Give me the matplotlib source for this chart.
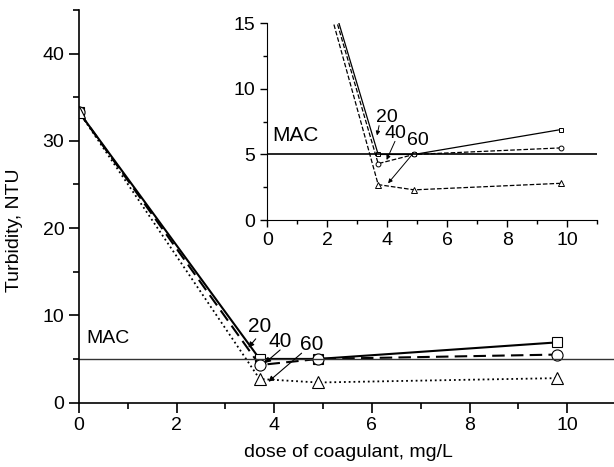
import matplotlib
matplotlib.use("Agg")
import matplotlib.pyplot as plt
from matplotlib.ticker import MultipleLocator

plt.rcParams['font.family'] = ['Liberation Sans', 'DejaVu Sans']

dose = [0, 3.7, 4.9, 9.8]
turb20 = [33.3, 5.0, 5.0, 6.9]
turb40 = [33.3, 4.3, 5.0, 5.5]
turb60 = [33.3, 2.7, 2.3, 2.8]
mac = 5.0

fig = plt.figure(figsize=(6.14, 4.67), dpi=100)
ax = fig.add_axes([0.1287, 0.138, 0.8713, 0.8406])

ax.plot(dose, turb20, '-', color='black', lw=1.5, marker='s', ms=7, mfc='white', mec='black', mew=0.8)
ax.plot(dose, turb40, '--', color='black', lw=1.5, dashes=(6, 3), marker='o', ms=8, mfc='white', mec='black', mew=0.8)
ax.plot(dose, turb60, ':', color='black', lw=1.3, marker='^', ms=8.5, mfc='white', mec='black', mew=0.8)
ax.axhline(mac, color='#333333', lw=1.0)

ax.set_xlim(0, 10.96)
ax.set_ylim(0, 45)
ax.xaxis.set_major_locator(MultipleLocator(2))
ax.xaxis.set_minor_locator(MultipleLocator(1))
ax.yaxis.set_major_locator(MultipleLocator(10))
ax.yaxis.set_minor_locator(MultipleLocator(5))
for s in ['top', 'right']:
    ax.spines[s].set_visible(False)
ax.spines['left'].set_linewidth(1.2)
ax.spines['bottom'].set_linewidth(1.2)
ax.tick_params(which='major', direction='out', length=7, width=1.2, labelsize=14)
ax.tick_params(which='minor', direction='out', length=4, width=1.2)
ax.set_xlabel('dose of coagulant, mg/L', fontsize=14)
ax.set_ylabel('Turbidity, NTU', fontsize=14)
ax.yaxis.set_label_coords(-0.105, 0.44)
ax.xaxis.set_label_coords(0.503, -0.105)

ax.text(0.16, 6.4, 'MAC', fontsize=14, ha='left', va='bottom')
arw = dict(arrowstyle='-|>', color='black', lw=0.8, mutation_scale=8, shrinkA=0, shrinkB=0)
ax.text(3.71, 8.7, '20', fontsize=15, ha='center', va='center')
ax.text(4.12, 7.0, '40', fontsize=15, ha='center', va='center')
ax.text(4.77, 6.6, '60', fontsize=15, ha='center', va='center')
ax.annotate('', xy=(3.47, 6.3), xytext=(3.62, 7.3), arrowprops=arw)
ax.annotate('', xy=(3.81, 4.54), xytext=(4.12, 6.03), arrowprops=arw)
ax.annotate('', xy=(3.88, 2.39), xytext=(4.56, 5.66), arrowprops=arw)

# inset
ins = fig.add_axes([0.4353, 0.5289, 0.5370, 0.4211])
ins.plot(dose, turb20, '-', color='black', lw=0.9, marker='s', ms=3.5, mfc='white', mec='black', mew=0.7)
ins.plot(dose, turb40, '--', color='black', lw=0.9, marker='o', ms=3.5, mfc='white', mec='black', mew=0.7)
ins.plot(dose, turb60, '--', color='black', lw=0.9, marker='^', ms=4, mfc='white', mec='black', mew=0.7)
ins.axhline(mac, color='black', lw=1.2)
ins.set_xlim(0, 11)
ins.set_ylim(0, 15)
ins.xaxis.set_major_locator(MultipleLocator(2))
ins.xaxis.set_minor_locator(MultipleLocator(1))
ins.yaxis.set_major_locator(MultipleLocator(5))
ins.yaxis.set_minor_locator(MultipleLocator(2.5))
for s in ['top', 'right']:
    ins.spines[s].set_visible(False)
ins.tick_params(which='major', direction='out', length=5, width=1.0, labelsize=14)
ins.tick_params(which='minor', direction='out', length=3, width=1.0)
ins.text(0.15, 5.7, 'MAC', fontsize=15, ha='left', va='bottom')
arw2 = dict(arrowstyle='-|>', color='black', lw=0.7, mutation_scale=6, shrinkA=0, shrinkB=0)
ins.text(3.98, 7.8, '20', fontsize=14, ha='center', va='center')
ins.text(4.28, 6.6, '40', fontsize=14, ha='center', va='center')
ins.text(5.03, 6.1, '60', fontsize=14, ha='center', va='center')
ins.annotate('', xy=(3.66, 6.45), xytext=(3.73, 7.2), arrowprops=arw2)
ins.annotate('', xy=(3.98, 4.58), xytext=(4.26, 6.0), arrowprops=arw2)
ins.annotate('', xy=(4.03, 2.8), xytext=(4.87, 5.09), arrowprops=arw2)

fig.savefig('out.png', dpi=100)
